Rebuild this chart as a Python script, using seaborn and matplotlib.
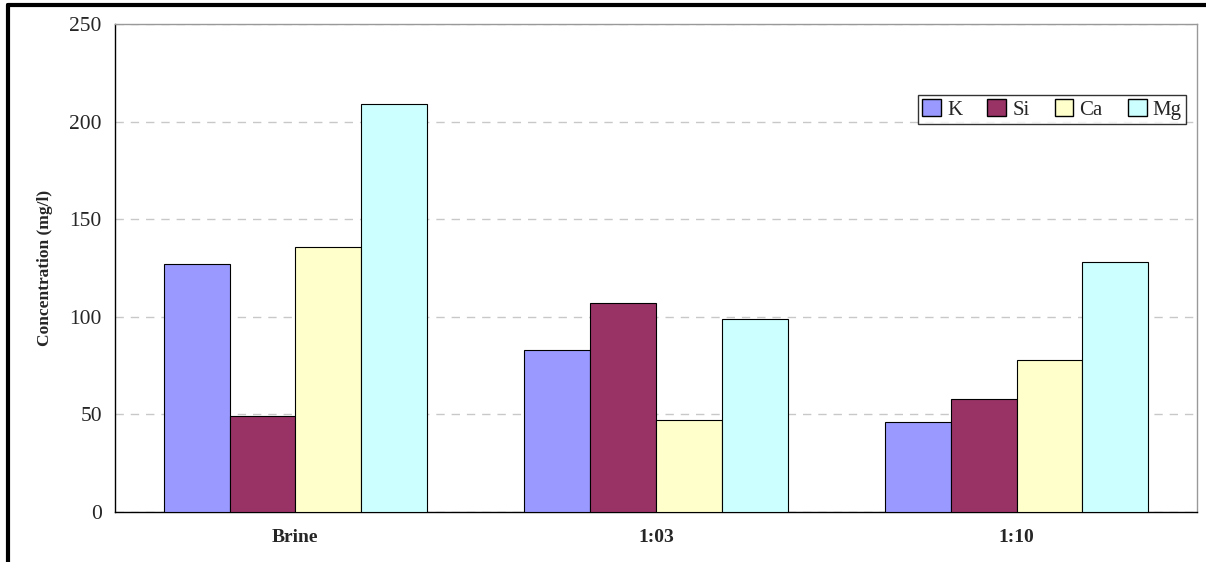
import numpy as np
import pandas as pd
import matplotlib
matplotlib.use("Agg")
import matplotlib.pyplot as plt
import seaborn as sns
from matplotlib.ticker import FixedLocator

# data
groups = ["Brine", "1:03", "1:10"]
elements = ["K", "Si", "Ca", "Mg"]
k_vals = [127, 83, 46]
si_vals = [49, 107, 58]
ca_vals = [136, 47, 78]
mg_vals = [209, 99, 128]

colors = ["#9999FF", "#993366", "#FFFFCC", "#CCFFFF"]

rows = []
for el, vals in zip(elements, [k_vals, si_vals, ca_vals, mg_vals]):
    for g, v in zip(groups, vals):
        rows.append({"group": g, "element": el, "value": v})
df = pd.DataFrame(rows)

sns.set_style("white")
plt.rcParams["font.family"] = ["Liberation Serif", "DejaVu Serif"]

fig = plt.figure(figsize=(12.06, 5.62), dpi=100)
ax = fig.add_axes([0.0954, 0.089, 0.897, 0.868])

sns.barplot(data=df, x="group", y="value", hue="element", order=groups,
            hue_order=elements, palette=colors, width=0.73,
            edgecolor="black", linewidth=0.8, saturation=1, ax=ax, zorder=3)

ax.set_ylim(0, 250)
ax.set_xlim(-0.5, 2.5)
ax.set_yticks(np.arange(0, 251, 50))
ax.tick_params(axis="y", labelsize=15.5, length=6, width=1, direction="out", color="black")
ax.tick_params(axis="x", which="major", length=0, labelsize=14, pad=12)
ax.xaxis.set_minor_locator(FixedLocator([-0.5, 0.5, 1.5, 2.5]))
ax.tick_params(axis="x", which="minor", length=6, width=1, direction="out", color="black")
for lbl in ax.get_xticklabels():
    lbl.set_fontweight("bold")

ax.yaxis.grid(True, linestyle=(0, (6, 5)), color="#C8C8C8", linewidth=1, zorder=0)
ax.set_axisbelow(True)

for side in ["left", "bottom"]:
    ax.spines[side].set_color("black")
    ax.spines[side].set_linewidth(1)
for side in ["top", "right"]:
    ax.spines[side].set_color("#999999")
    ax.spines[side].set_linewidth(1)

ax.set_xlabel("")
ax.set_ylabel("Concentration (mg/l)", fontsize=12.5, fontweight="bold", labelpad=12)

leg = ax.legend(loc="upper right", bbox_to_anchor=(0.99, 0.855), ncol=4,
                fontsize=15, frameon=True, fancybox=False, handlelength=0.9,
                handleheight=0.85, handletextpad=0.3, columnspacing=1.2,
                borderpad=0.2, borderaxespad=0)
leg.get_frame().set_edgecolor("black")
leg.get_frame().set_linewidth(1)
for h in leg.legend_handles:
    h.set_edgecolor("black")
    h.set_linewidth(1)

# outer frame lines (top and left) as in the source image
fig.add_artist(plt.Line2D([0.0066, 1.0], [0.991, 0.991], color="black", linewidth=3,
                          transform=fig.transFigure))
fig.add_artist(plt.Line2D([0.0066, 0.0066], [0.0, 0.991], color="black", linewidth=3,
                          transform=fig.transFigure))

fig.savefig("out.png", dpi=100)
